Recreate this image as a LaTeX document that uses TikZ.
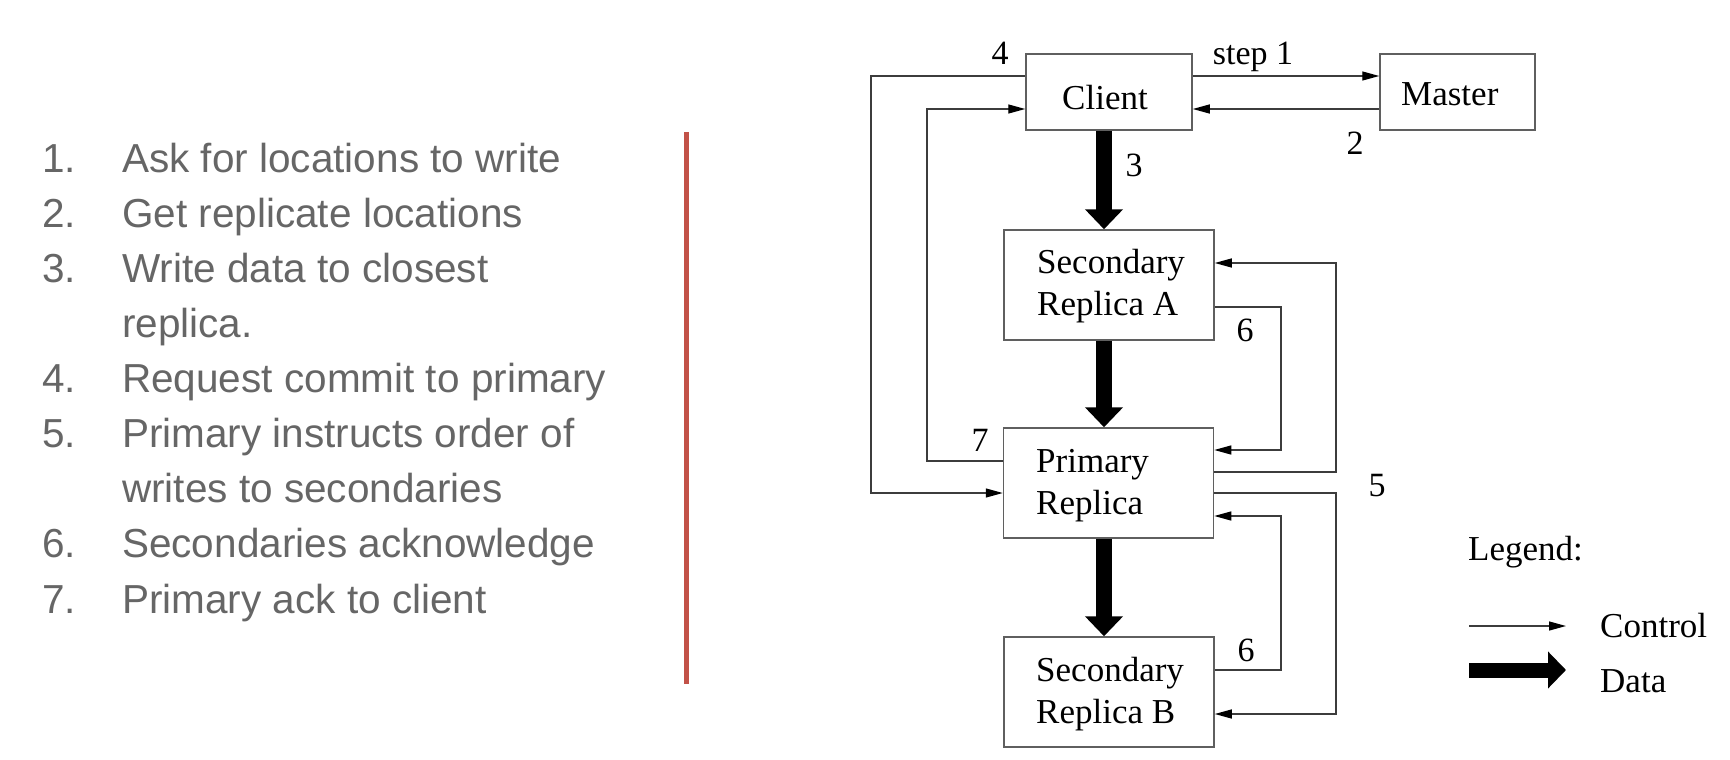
\documentclass[tikz,border=0pt]{standalone}
\usepackage{fontspec}
\setmainfont{Liberation Serif}
\newfontfamily\listfont{Liberation Sans}
\usetikzlibrary{arrows.meta}
\definecolor{listgray}{RGB}{102,102,102}
\definecolor{redline}{RGB}{194,82,72}
\definecolor{linegray}{RGB}{60,60,60}
\definecolor{boxgray}{RGB}{95,95,95}
\tikzset{
  box/.style={draw=boxgray, line width=1.5pt, inner sep=0pt, minimum height=110pt, minimum width=210pt},
  boxtext/.style={anchor=base west, inner sep=0pt, font=\fontsize{35}{42}\selectfont},
  numlabel/.style={anchor=base, inner sep=0pt, font=\fontsize{34}{40}\selectfont},
  ctrl/.style={draw=linegray, line width=1.3pt, -{Triangle[length=17pt,width=9pt,color=black]}},
  data/.style={draw=black, line width=16pt, -{Triangle[length=20pt,width=37pt]}},
  listnum/.style={anchor=base west, inner sep=0pt, text=listgray, font=\listfont\fontsize{40.5}{48}\selectfont},
}
\begin{document}
\begin{tikzpicture}[x=1pt,y=-1pt]
\useasboundingbox (0,0) rectangle (1730,760);
\fill[white] (0,0) rectangle (1730,760);

% list
\node[listnum] (n1) at (42,172) {1.};
\node[listnum] (t1) at (122,172) {Ask for locations to write};
\node[listnum] (n2) at (42,227) {2.};
\node[listnum] (t2) at (122,227) {Get replicate locations};
\node[listnum] (n3) at (42,282) {3.};
\node[listnum] (t3) at (122,282) {Write data to closest};
\node[listnum] (t3b) at (122,337) {replica.};
\node[listnum] (n4) at (42,392) {4.};
\node[listnum] (t4) at (122,392) {Request commit to primary};
\node[listnum] (n5) at (42,447) {5.};
\node[listnum] (t5) at (122,447) {Primary instructs order of};
\node[listnum] (t5b) at (122,502) {writes to secondaries};
\node[listnum] (n6) at (42,557) {6.};
\node[listnum] (t6) at (122,557) {Secondaries acknowledge};
\node[listnum] (n7) at (42,613) {7.};
\node[listnum] (t7) at (122,613) {Primary ack to client};

% red divider
\coordinate (rtop) at (686,132);
\coordinate (rbot) at (686,684);
\draw[redline, line width=5pt] (rtop) -- (rbot);

% boxes
\node[box, minimum width=166pt, minimum height=76pt] (Client) at (1109,92) {};
\node[box, minimum width=155pt, minimum height=76pt] (Master) at (1457.5,92) {};
\node[box] (SecA) at (1109,285) {};
\node[box] (Primary) at (1108.5,483) {};
\node[box] (SecB) at (1109,692) {};

% box texts
\node[boxtext] (tClient) at (1062,109) {Client};
\node[boxtext] (tMaster) at (1401,106) {Master};
\node[boxtext] (tA1) at (1037,273) {Secondary};
\node[boxtext] (tA2) at (1037,315) {Replica A};
\node[boxtext] (tP1) at (1036,472) {Primary};
\node[boxtext] (tP2) at (1036,514) {Replica};
\node[boxtext] (tB1) at (1036,681) {Secondary};
\node[boxtext] (tB2) at (1036,723) {Replica B};

% routing coordinates
\coordinate (y76) at (0,76);
\coordinate (y109) at (0,109);
\coordinate (y461) at (0,461);
\coordinate (y493) at (0,493);
\coordinate (y472) at (0,472);
\coordinate (y263) at (0,263);
\coordinate (y714) at (0,714);
\coordinate (y307) at (0,307);
\coordinate (y450) at (0,450);
\coordinate (y670) at (0,670);
\coordinate (y516) at (0,516);
\coordinate (xL) at (871,0);
\coordinate (xM) at (927,0);
\coordinate (xR) at (1336,0);
\coordinate (xS) at (1281,0);
\coordinate (xT) at (1104,0);

% control connectors
\draw[ctrl] (Client.east |- y76) -- (Master.west |- y76);
\draw[ctrl] (Master.west |- y109) -- (Client.east |- y109);
\draw[ctrl] (Client.west |- y76) -| (xL |- y493) -- (Primary.west |- y493);
\draw[ctrl] (Primary.west |- y461) -| (xM |- y109) -- (Client.west |- y109);
\draw[ctrl] (Primary.east |- y472) -| (xR |- y263) -- (SecA.east |- y263);
\draw[ctrl] (Primary.east |- y493) -| (xR |- y714) -- (SecB.east |- y714);
\draw[ctrl] (SecA.east |- y307) -| (xS |- y450) -- (Primary.east |- y450);
\draw[ctrl] (SecB.east |- y670) -| (xS |- y516) -- (Primary.east |- y516);

% data connectors
\draw[data] (xT |- Client.south) -- (xT |- SecA.north);
\draw[data] (xT |- SecA.south) -- (xT |- Primary.north);
\draw[data] (xT |- Primary.south) -- (xT |- SecB.north);

% step labels
\node[numlabel] (l4) at (1000,65) {4};
\node[numlabel] (l1) at (1253,65) {step 1};
\node[numlabel] (l2) at (1355,154) {2};
\node[numlabel] (l3) at (1134,176) {3};
\node[numlabel] (l6a) at (1245,341) {6};
\node[numlabel] (l7) at (980,451) {7};
\node[numlabel] (l5) at (1377,496) {5};
\node[numlabel] (l6b) at (1246,661) {6};

% legend
\node[boxtext] (leg) at (1468,560) {Legend:};
\coordinate (c1) at (1469,626);
\coordinate (c2) at (1566,626);
\draw[ctrl] (c1) -- (c2);
\node[boxtext] (lc) at (1600,637) {Control};
\coordinate (d1) at (1469,670);
\coordinate (d2) at (1566,670);
\draw[data, line width=15pt, -{Triangle[length=18pt,width=36pt]}] (d1) -- (d2);
\node[boxtext] (ld) at (1600,692) {Data};
\end{tikzpicture}
\end{document}
